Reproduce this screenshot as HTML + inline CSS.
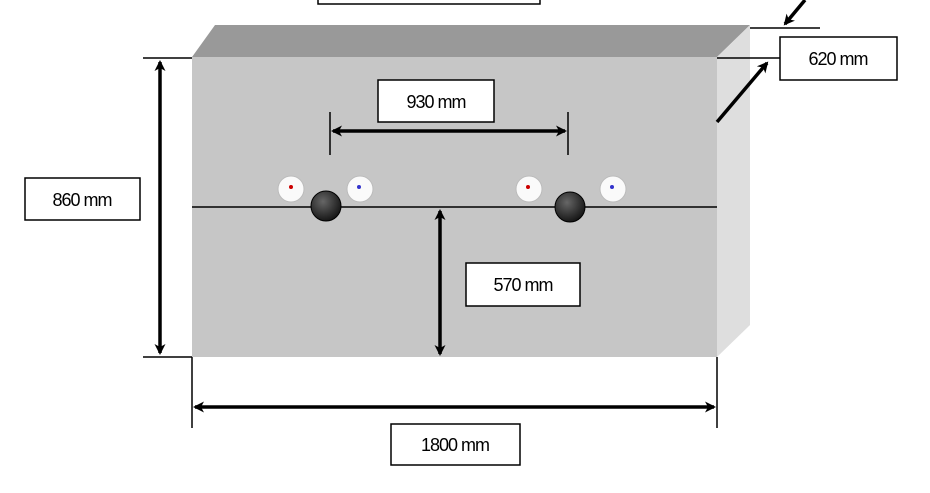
<!DOCTYPE html>
<html><head><style>body{margin:0;background:#fff}svg{display:block}text{font-family:"Liberation Sans",sans-serif;font-size:18px;letter-spacing:-1px}</style></head>
<body>
<svg width="930" height="493" viewBox="0 0 930 493">
<defs>
<marker id="a" markerWidth="11" markerHeight="11" refX="9" refY="5.5" orient="auto-start-reverse" markerUnits="userSpaceOnUse"><path d="M0,0 L11,5.5 L0,11 L3,5.5 Z" fill="#000"/></marker>
<radialGradient id="g" cx="0.4" cy="0.35" r="0.7"><stop offset="0" stop-color="#666"/><stop offset="1" stop-color="#111"/></radialGradient>
</defs>
<polygon points="192,57 215,25 750,25 717,57" fill="#999"/>
<polygon points="717,57 750,25 750,325 717,357" fill="#dedede"/>
<rect x="192" y="57" width="525" height="300" fill="#c6c6c6"/>
<g stroke="#000" stroke-width="1.5" fill="none">
<line x1="143" y1="58" x2="192" y2="58"/>
<line x1="143" y1="357" x2="192" y2="357"/>
<line x1="160" y1="62" x2="160" y2="353" stroke-width="3.5" marker-start="url(#a)" marker-end="url(#a)"/>
<line x1="750" y1="28" x2="820" y2="28"/>
<line x1="717" y1="58" x2="780" y2="58"/>
<line x1="805" y1="0" x2="785" y2="24" stroke-width="3.5" marker-end="url(#a)"/>
<line x1="717" y1="122" x2="767" y2="63" stroke-width="3.5" marker-end="url(#a)"/>
<line x1="330" y1="112" x2="330" y2="155"/>
<line x1="568" y1="112" x2="568" y2="155"/>
<line x1="333" y1="131" x2="565" y2="131" stroke-width="3.5" marker-start="url(#a)" marker-end="url(#a)"/>
<line x1="192" y1="207" x2="717" y2="207"/>
<line x1="440" y1="211" x2="440" y2="354" stroke-width="3.5" marker-start="url(#a)" marker-end="url(#a)"/>
<line x1="192" y1="357" x2="192" y2="428"/>
<line x1="717" y1="357" x2="717" y2="428"/>
<line x1="195" y1="407" x2="714" y2="407" stroke-width="3.5" marker-start="url(#a)" marker-end="url(#a)"/>
</g>
<g fill="#fafafa" stroke="#bbb" stroke-width="1">
<circle cx="291" cy="189" r="13"/><circle cx="360" cy="189" r="13"/>
<circle cx="529" cy="189" r="13"/><circle cx="613" cy="189" r="13"/>
</g>
<g><circle cx="291" cy="187" r="2" fill="#c00"/><circle cx="359" cy="187" r="2" fill="#33c"/><circle cx="528" cy="187" r="2" fill="#c00"/><circle cx="612" cy="187" r="2" fill="#33c"/></g>
<circle cx="326" cy="206" r="15" fill="url(#g)" stroke="#000"/>
<circle cx="570" cy="207" r="15" fill="url(#g)" stroke="#000"/>
<g fill="#fff" stroke="#000" stroke-width="1.5">
<rect x="318" y="-5" width="222" height="9"/>
<rect x="25" y="178" width="115" height="42"/>
<rect x="780" y="37" width="117" height="43"/>
<rect x="378" y="80" width="116" height="42"/>
<rect x="466" y="263" width="114" height="43"/>
<rect x="391" y="424" width="129" height="41"/>
</g>
<text x="82" y="206" text-anchor="middle">860 mm</text>
<text x="838" y="65" text-anchor="middle">620 mm</text>
<text x="436" y="108" text-anchor="middle">930 mm</text>
<text x="523" y="291" text-anchor="middle">570 mm</text>
<text x="455" y="451" text-anchor="middle">1800 mm</text>
</svg>
</body></html>
